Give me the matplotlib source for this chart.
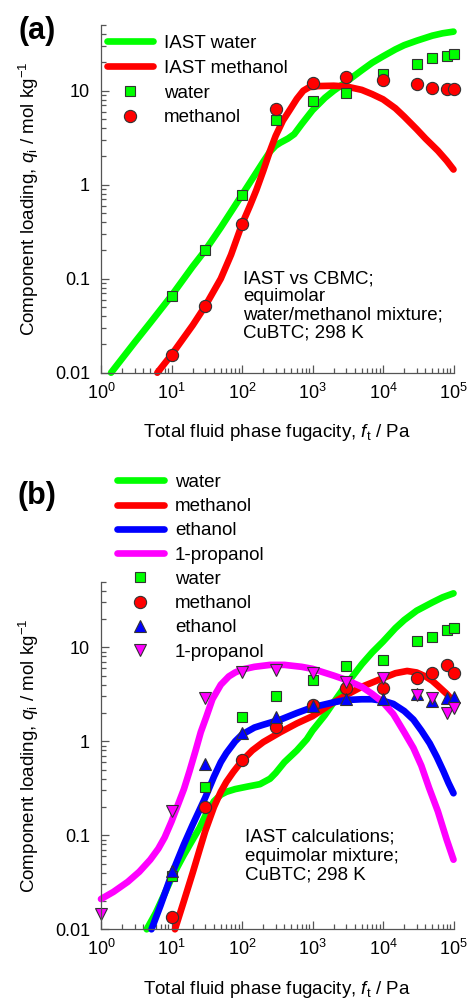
import matplotlib
matplotlib.use("Agg")
import matplotlib.pyplot as plt
from matplotlib.ticker import LogLocator, NullFormatter, FixedLocator, FixedFormatter

plt.rcParams['font.family'] = ['Liberation Sans', 'DejaVu Sans']
plt.rcParams['mathtext.fontset'] = 'custom'
plt.rcParams['mathtext.rm'] = 'Liberation Sans'
plt.rcParams['mathtext.it'] = 'Liberation Sans:italic'
plt.rcParams['mathtext.bf'] = 'Liberation Sans:bold'

# ---------------- (a) water/methanol, IAST vs CBMC ----------------
a_cbmc_f = [10, 30, 100, 300, 1000, 3000, 1e4, 3e4, 5e4, 8e4, 1e5]
a_cbmc_water = [0.0655, 0.2, 0.78, 4.9, 7.8, 9.4, 15.0, 19.1, 22.1, 23.4, 24.6]
a_cbmc_methanol = [0.0155, 0.051, 0.38, 6.4, 12.2, 13.9, 13.0, 11.7, 10.8, 10.35, 10.4]

a_iast_water_f = [1.39, 3, 5, 10, 20, 30, 50, 100, 150, 200, 250, 300, 350, 450, 550,
                  700, 1000, 1500, 2000, 3000, 5000, 7000, 1e4, 1.5e4, 2e4, 3e4,
                  5e4, 7e4, 1e5]
a_iast_water_q = [0.01, 0.021, 0.034, 0.066, 0.135, 0.2, 0.35, 0.78, 1.25, 1.75, 2.25,
                  2.6, 2.8, 3.1, 3.45, 4.4, 6.2, 8.4, 10.0, 12.4, 16.5, 19.8, 23.2,
                  27.5, 30.5, 34, 38.5, 40.8, 42.5]

a_iast_meth_f = [6.3, 10, 20, 30, 50, 70, 100, 130, 160, 200, 250, 300, 380, 480, 600,
                 740, 900, 1200, 2000, 3000, 5000, 7000, 1e4, 1.5e4, 2e4, 3e4, 4e4,
                 6e4, 8e4, 1e5]
a_iast_meth_q = [0.01, 0.0155, 0.032, 0.051, 0.1, 0.18, 0.38, 0.6, 0.88, 1.4, 2.3, 3.3,
                 4.8, 6.3, 8.2, 10.0, 10.9, 11.2, 11.3, 11.1, 10.2, 9.2, 8.1, 6.5,
                 5.3, 3.9, 3.1, 2.3, 1.8, 1.45]

# ---------------- (b) quaternary mixture, IAST ----------------
b_f = [10, 30, 100, 300, 1000, 3000, 1e4, 3e4, 5e4, 8e4, 1e5]
b_water = [0.037, 0.33, 1.83, 3.03, 4.49, 6.32, 7.33, 11.75, 13.0, 15.3, 16.2]
b_methanol = [0.0136, 0.20, 0.63, 1.41, 2.43, 3.66, 3.72, 4.68, 5.37, 6.48, 5.37]
b_ethanol = [0.042, 0.574, 1.23, 1.83, 2.38, 2.8, 2.8, 3.15, 2.7, 2.86, 2.98]
b_prop_f = [1, 10, 30, 100, 300, 1000, 3000, 1e4, 3e4, 5e4, 8e4, 1e5]
b_propanol = [0.0146, 0.183, 2.87, 5.5, 5.74, 5.29, 4.31, 4.7, 3.11, 2.91, 2.01, 2.24]

b_line_water_f = [4.45, 6, 8, 10, 15, 20, 25, 30, 40, 50, 60, 80, 120, 180, 250, 300,
                  400, 600, 830, 1000, 1500, 2000, 3000, 5000, 7000, 1e4, 1.5e4,
                  2e4, 3e4, 5e4, 7e4, 1e5]
b_line_water_q = [0.01, 0.015, 0.024, 0.035, 0.062, 0.09, 0.12, 0.16, 0.23, 0.27, 0.29,
                  0.31, 0.33, 0.35, 0.4, 0.46, 0.6, 0.8, 1.05, 1.3, 1.9, 2.6, 4.0,
                  6.6, 8.8, 11.5, 16, 19.5, 24.5, 30, 34, 37.5]

b_line_meth_f = [11.2, 15, 20, 25, 30, 40, 50, 60, 75, 100, 140, 200, 350, 600, 1000,
                 2000, 3000, 5000, 1e4, 1.5e4, 2.2e4, 3e4, 4e4, 5e4, 6e4, 8e4, 1e5]
b_line_meth_q = [0.01, 0.02, 0.04, 0.07, 0.11, 0.2, 0.29, 0.37, 0.47, 0.62, 0.8, 0.98,
                 1.25, 1.55, 1.85, 2.6, 3.1, 3.8, 4.7, 5.3, 5.6, 5.4, 4.9, 4.4, 3.9,
                 3.2, 2.65]

b_line_eth_f = [5.2, 7, 10, 15, 20, 30, 40, 50, 60, 80, 100, 150, 200, 350, 600, 1000,
                2000, 3000, 5000, 7000, 1e4, 1.4e4, 2e4, 2.7e4, 3.5e4, 4.6e4, 5.8e4,
                7.2e4, 8.5e4, 1e5]
b_line_eth_q = [0.01, 0.018, 0.038, 0.08, 0.13, 0.25, 0.42, 0.6, 0.75, 1.0, 1.18, 1.4,
                1.5, 1.7, 2.0, 2.3, 2.6, 2.75, 2.8, 2.8, 2.7, 2.5, 2.1, 1.7, 1.3,
                0.95, 0.68, 0.48, 0.36, 0.28]

b_line_prop_f = [1, 1.5, 2.4, 3.5, 5, 6.5, 8, 10, 12, 15, 18, 22, 26, 31, 38, 50, 65,
                 80, 100, 150, 250, 400, 700, 1000, 2000, 3000, 5000, 7000, 1e4,
                 1.4e4, 2e4, 2.7e4, 3.5e4, 4.5e4, 6e4, 8e4, 1e5]
b_line_prop_q = [0.021, 0.025, 0.032, 0.041, 0.055, 0.072, 0.095, 0.14, 0.2, 0.31,
                 0.48, 0.8, 1.25, 1.8, 2.8, 4.0, 4.9, 5.4, 5.8, 6.2, 6.5, 6.5, 6.2,
                 5.9, 5.0, 4.5, 3.8, 3.2, 2.6, 1.95, 1.25, 0.85, 0.55, 0.32, 0.18,
                 0.09, 0.055]

x_ticks = [1, 10, 100, 1e3, 1e4, 1e5]
x_ticklabels = [r'$10^{0}$', r'$10^{1}$', r'$10^{2}$', r'$10^{3}$', r'$10^{4}$', r'$10^{5}$']
y_ticks = [0.01, 0.1, 1, 10]
y_ticklabels = ['0.01', '0.1', '1', '10']

GREEN = '#00ff00'
RED = '#ff0000'
BLUE = '#0000ff'
MAGENTA = '#ff00ff'
EDGE = '#333333'
AXC = '#555555'
FS = 13.5
FS_TICK = 13

W, H = 467, 999
fig = plt.figure(figsize=(W / 100, H / 100), dpi=100)

def px_axes(x0, y0, x1, y1):
    return fig.add_axes([x0 / W, 1 - y1 / H, (x1 - x0) / W, (y1 - y0) / H])

ax_a = px_axes(101, 25, 453.5, 372.7)
ax_b = px_axes(101, 581.6, 453.5, 929.3)

LW = 4.8
MS = 8.3
line_kw = dict(lw=LW, solid_capstyle='round', solid_joinstyle='round', clip_on=False)
mk_kw = dict(ls='none', mec=EDGE, mew=0.8, clip_on=False)

def style_axes(ax):
    ax.set_xscale('log')
    ax.set_yscale('log')
    ax.set_xlim(1, 1e5)
    ax.set_ylim(0.01, 50)
    for s in ('top', 'right'):
        ax.spines[s].set_visible(False)
    for s in ('left', 'bottom'):
        ax.spines[s].set_color(AXC)
        ax.spines[s].set_linewidth(0.9)
    ax.xaxis.set_major_locator(FixedLocator(x_ticks))
    ax.xaxis.set_major_formatter(FixedFormatter(x_ticklabels))
    ax.yaxis.set_major_locator(FixedLocator(y_ticks))
    ax.yaxis.set_major_formatter(FixedFormatter(y_ticklabels))
    ax.xaxis.set_minor_locator(LogLocator(base=10, subs=range(2, 10)))
    ax.yaxis.set_minor_locator(LogLocator(base=10, subs=range(2, 10)))
    ax.xaxis.set_minor_formatter(NullFormatter())
    ax.yaxis.set_minor_formatter(NullFormatter())
    ax.tick_params(which='both', direction='in', color=AXC, width=0.9,
                   labelsize=FS_TICK, labelcolor='black')
    ax.tick_params(which='major', length=5.5)
    ax.tick_params(which='minor', length=3.5)
    ax.tick_params(axis='x', which='major', pad=7)
    ax.tick_params(axis='y', which='major', pad=8)
    ax.set_xlabel(r'Total fluid phase fugacity, $\mathit{f}$$_\mathrm{t}$ / Pa',
                  fontsize=FS, labelpad=14)
    ax.set_ylabel(r'Component loading, $\mathit{q}$$_\mathrm{i}$ / mol kg$^{-1}$',
                  fontsize=FS, labelpad=10)

leg_kw = dict(loc='upper left', bbox_transform=fig.transFigure, frameon=False,
              fontsize=FS, handletextpad=0.6, borderpad=0.2, borderaxespad=0)

# ---- panel (a)
style_axes(ax_a)
ax_a.plot(a_iast_water_f, a_iast_water_q, color=GREEN, label='IAST water', **line_kw)
ax_a.plot(a_iast_meth_f, a_iast_meth_q, color=RED, label='IAST methanol', **line_kw)
ax_a.plot(a_cbmc_f, a_cbmc_water, marker='s', ms=MS - 0.5, mfc=GREEN, label='water', **mk_kw)
ax_a.plot(a_cbmc_f, a_cbmc_methanol, marker='o', ms=MS + 0.5, mfc=RED, label='methanol', **mk_kw)
ax_a.legend(bbox_to_anchor=(103 / W, 1 - 31 / H), handlelength=2.45,
            labelspacing=0.41, **leg_kw)
ax_a.text(243 / W, 1 - 270 / H,
          'IAST vs CBMC;\nequimolar\nwater/methanol mixture;\nCuBTC; 298 K',
          transform=fig.transFigure, fontsize=FS, va='top', ha='left',
          linespacing=1.1)
fig.text(37 / W, 1 - 31 / H, '(a)', fontsize=22, fontweight='bold',
         ha='center', va='center')

# ---- panel (b)
style_axes(ax_b)
ax_b.plot(b_line_water_f, b_line_water_q, color=GREEN, label='water', **line_kw)
ax_b.plot(b_line_meth_f, b_line_meth_q, color=RED, label='methanol', **line_kw)
ax_b.plot(b_line_eth_f, b_line_eth_q, color=BLUE, label='ethanol', **line_kw)
ax_b.plot(b_line_prop_f, b_line_prop_q, color=MAGENTA, label='1-propanol', **line_kw)
ax_b.plot(b_f, b_water, marker='s', ms=MS - 0.5, mfc=GREEN, label='water', **mk_kw)
ax_b.plot(b_f, b_methanol, marker='o', ms=MS + 0.5, mfc=RED, label='methanol', **mk_kw)
ax_b.plot(b_f, b_ethanol, marker='^', ms=MS + 0.5, mfc=BLUE, label='ethanol', **mk_kw)
ax_b.plot(b_prop_f, b_propanol, marker='v', ms=MS + 0.5, mfc=MAGENTA, label='1-propanol', **mk_kw)
ax_b.legend(bbox_to_anchor=(113 / W, 1 - 470 / H), handlelength=2.5,
            labelspacing=0.38, **leg_kw)
ax_b.text(245 / W, 1 - 829 / H,
          'IAST calculations;\nequimolar mixture;\nCuBTC; 298 K',
          transform=fig.transFigure, fontsize=FS, va='top', ha='left',
          linespacing=1.13)
fig.text(37 / W, 1 - 496 / H, '(b)', fontsize=22, fontweight='bold',
         ha='center', va='center')

fig.savefig('out.png', dpi=100)
